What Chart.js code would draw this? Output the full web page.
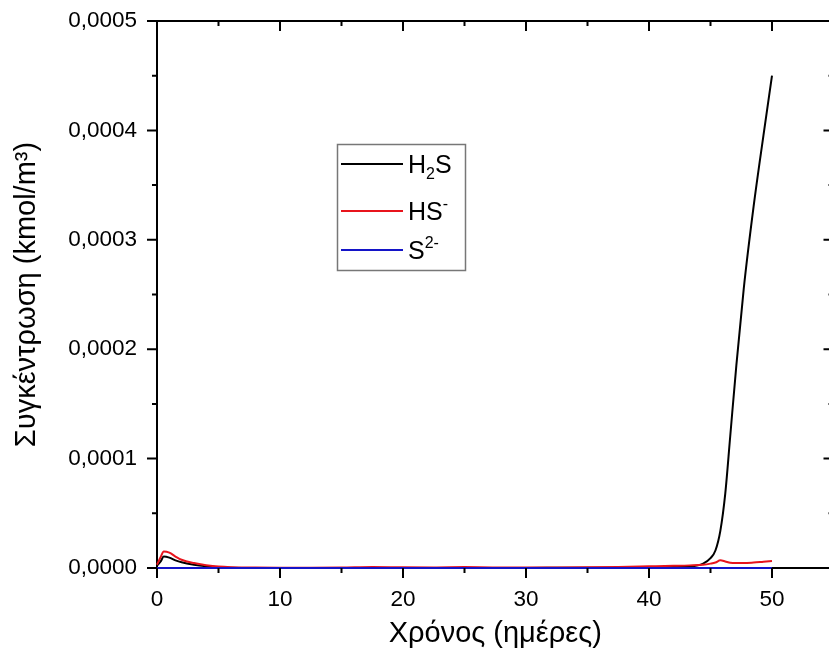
<!DOCTYPE html>
<html>
<head>
<meta charset="utf-8">
<script src="https://cdn.jsdelivr.net/npm/chart.js@4.4.1/dist/chart.umd.min.js"></script>
<style>
  html, body { margin: 0; padding: 0; background: #fff; overflow: hidden; }
  #wrap { width: 829px; height: 655px; overflow: hidden; }
</style>
</head>
<body>
<div id="wrap"><canvas id="chart" width="870" height="655"></canvas></div>
<script>
// time (days) and concentrations (kmol/m3)
const days = [0, 0.3, 0.55, 1, 1.5, 2, 3, 4, 5, 6, 8, 10, 12.5, 15, 17.5, 20, 22.5, 25, 27.5, 30,
  32.5, 35, 37.5, 40, 42, 43.3, 44.4, 45, 45.4, 45.8, 46.2, 46.6, 47.1, 47.7, 48.5, 49.3, 50];

const h2s = [2e-6, 6e-6, 1.05e-5, 9.5e-6, 7e-6, 5.2e-6, 3e-6, 1.6e-6, 7e-7, 3e-7, 1e-7, 1e-7, 1e-7,
  1e-7, 1e-7, 1e-7, 1e-7, 1e-7, 1e-7, 1e-7, 1.5e-7, 2e-7, 3e-7, 5e-7, 8e-7, 1.3e-6, 4e-6, 9e-6,
  1.6e-5, 3.4e-5, 6.8e-5, 1.2e-4, 1.85e-4, 2.55e-4, 3.3e-4, 3.95e-4, 4.5e-4];

const hs = [3e-6, 1.0e-5, 1.5e-5, 1.4e-5, 1.05e-5, 7.5e-6, 4.5e-6, 2.6e-6, 1.3e-6, 7e-7, 4e-7, 3e-7,
  3e-7, 4e-7, 8e-7, 6e-7, 5e-7, 8e-7, 5e-7, 5e-7, 5e-7, 6e-7, 9e-7, 1.5e-6, 2e-6, 2.4e-6, 3e-6,
  4e-6, 5e-6, 7e-6, 6e-6, 4.8e-6, 4.5e-6, 4.5e-6, 5e-6, 5.8e-6, 6.5e-6];

const s2Days = [0, 10, 20, 30, 40, 50];
const s2 = [0, 0, 0, 0, 0, 0];

const xMin = 0, xMax = 55, xStep = 10;
const yMin = 0, yMax = 0.0005, yStep = 0.0001;

const FONT = "'Liberation Sans', Arial, sans-serif";
const RED = "#e8141c";
const BLUE = "#1414c8";

function toPoints(xs, ys) {
  return xs.map((x, i) => ({ x: x, y: ys[i] }));
}

// Origin-like frame: top/right lines plus major & minor ticks on all four sides
const framePlugin = {
  id: "frame",
  afterDraw(chart) {
    const ctx = chart.ctx;
    const a = chart.chartArea;
    const xs = chart.scales.x, ys = chart.scales.y;
    ctx.save();
    ctx.strokeStyle = "#000";
    ctx.lineWidth = 2;
    ctx.beginPath();
    ctx.moveTo(a.left - 1, a.top);
    ctx.lineTo(a.right, a.top);
    ctx.lineTo(a.right, a.bottom);
    ctx.stroke();

    const major = 10, minor = 5;
    ctx.beginPath();
    for (let v = xMin; v <= xMax + 1e-9; v += xStep / 2) {
      const isMajor = Math.abs(v / xStep - Math.round(v / xStep)) < 1e-6;
      const len = isMajor ? major : minor;
      const px = xs.getPixelForValue(v);
      ctx.moveTo(px, a.bottom); ctx.lineTo(px, a.bottom + len);
      ctx.moveTo(px, a.top); ctx.lineTo(px, a.top + len);
    }
    for (let k = 0; k <= Math.round((yMax - yMin) / (yStep / 2)); k++) {
      const v = yMin + k * yStep / 2;
      const len = k % 2 === 0 ? major : minor;
      const py = ys.getPixelForValue(v);
      ctx.moveTo(a.left, py); ctx.lineTo(a.left - len, py);
      ctx.moveTo(a.right, py); ctx.lineTo(a.right - len, py);
    }
    ctx.stroke();
    ctx.restore();
  }
};

// legend box with sub/superscripts
const legendPlugin = {
  id: "chemLegend",
  afterDraw(chart) {
    const ctx = chart.ctx;
    ctx.save();
    ctx.strokeStyle = "#777";
    ctx.lineWidth = 1.5;
    ctx.strokeRect(337.5, 144.5, 128, 126);

    const items = [
      { color: "#000", y: 164, parts: [["H", 0], ["2", 1], ["S", 0]] },
      { color: RED, y: 211, parts: [["HS", 0], ["-", -1]] },
      { color: BLUE, y: 250, parts: [["S", 0], ["2-", -1]] }
    ];
    items.forEach((it) => {
      ctx.strokeStyle = it.color;
      ctx.lineWidth = 2;
      ctx.beginPath();
      ctx.moveTo(341, it.y);
      ctx.lineTo(403, it.y);
      ctx.stroke();
      let x = 408;
      const base = it.y + 9;
      ctx.fillStyle = "#000";
      ctx.textBaseline = "alphabetic";
      ctx.textAlign = "left";
      it.parts.forEach(([t, pos]) => {
        if (pos === 0) {
          ctx.font = "25px " + FONT;
          ctx.fillText(t, x, base);
        } else {
          ctx.font = "16px " + FONT;
          ctx.fillText(t, x, pos > 0 ? base + 6 : base - 11);
        }
        x += ctx.measureText(t).width;
      });
    });
    ctx.restore();
  }
};

function fixX(s) {
  s.height = 87;
  s.paddingLeft = 0;
  s.paddingRight = 0;
}
function fixY(s) {
  s.width = 157;
  s.paddingTop = 0;
  s.paddingBottom = 0;
}

new Chart(document.getElementById("chart"), {
  type: "line",
  data: {
    datasets: [
      { label: "S2-", data: toPoints(s2Days, s2), borderColor: BLUE, borderWidth: 2 },
      { label: "HS-", data: toPoints(days, hs), borderColor: RED, borderWidth: 2 },
      { label: "H2S", data: toPoints(days, h2s), borderColor: "#000", borderWidth: 2 }
    ]
  },
  options: {
    responsive: false,
    devicePixelRatio: 1,
    animation: false,
    layout: { padding: { left: 0, right: 36.5, top: 21, bottom: 0 } },
    elements: {
      point: { radius: 0 },
      line: { cubicInterpolationMode: "monotone", fill: false }
    },
    datasets: { line: { clip: false } },
    plugins: { legend: { display: false }, tooltip: { enabled: false } },
    scales: {
      x: {
        type: "linear",
        min: xMin,
        max: xMax,
        afterFit: fixX,
        grid: { display: false, drawTicks: false },
        border: { display: true, color: "#000", width: 2 },
        ticks: {
          stepSize: xStep,
          includeBounds: false,
          padding: 18,
          color: "#000",
          font: { family: FONT, size: 22.5 },
          maxRotation: 0
        },
        title: {
          display: true,
          text: "Χρόνος (ημέρες)",
          color: "#000",
          font: { family: FONT, size: 29 },
          padding: { top: 0, bottom: 4 }
        }
      },
      y: {
        type: "linear",
        min: yMin,
        max: yMax,
        afterFit: fixY,
        grid: { display: false, drawTicks: false },
        border: { display: true, color: "#000", width: 2 },
        ticks: {
          stepSize: yStep,
          padding: 20,
          color: "#000",
          font: { family: FONT, size: 22.5 },
          callback: (v) => Number(v).toFixed(4).replace(".", ",")
        },
        title: {
          display: true,
          text: "Συγκέντρωση (kmol/m³)",
          color: "#000",
          font: { family: FONT, size: 29 },
          padding: { top: 10, bottom: 0 }
        }
      }
    }
  },
  plugins: [framePlugin, legendPlugin]
});
</script>
</body>
</html>
